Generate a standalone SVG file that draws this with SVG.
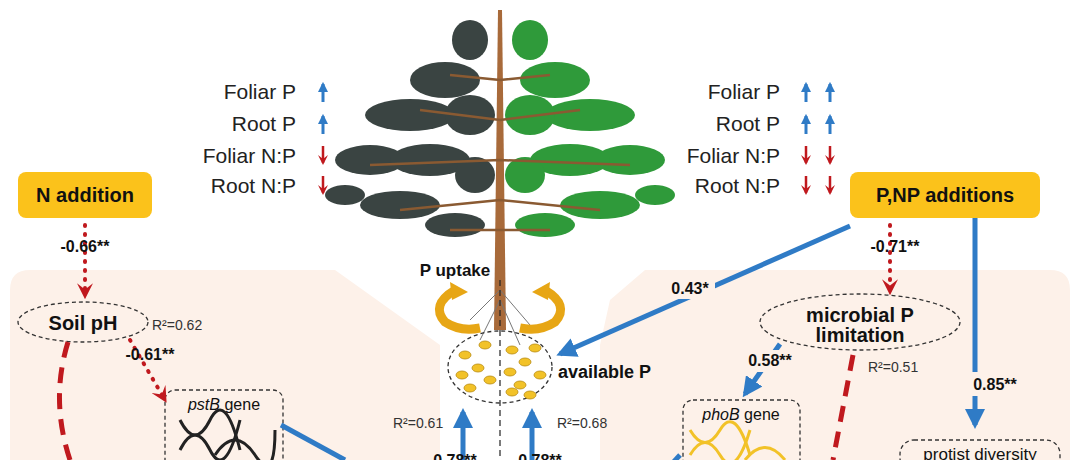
<svg xmlns="http://www.w3.org/2000/svg" width="1080" height="460" viewBox="0 0 1080 460">
<defs>
<style>
text{font-family:"Liberation Sans",Arial,sans-serif;fill:#111}
.lbl{font-size:21px;text-anchor:end;fill:#222}
.b{font-weight:bold}
.coef{font-size:16px;font-weight:bold}
.r2{font-size:14px;fill:#333}
.box{fill:#fbc21b;stroke:none}
.ell{fill:none;stroke:#333;stroke-width:1.3;stroke-dasharray:4 3}
.blue{stroke:#2f7bc6;stroke-width:5;fill:none}
.reddot{stroke:#c0191e;stroke-width:4;stroke-dasharray:1 8;stroke-linecap:round;fill:none}
.reddash{stroke:#c0191e;stroke-width:5;stroke-dasharray:16 10;fill:none}
.gl{fill:#3a4442}.gr{fill:#2f9a3a}
</style>
<marker id="ab" viewBox="0 0 10 10" refX="8" refY="5" markerWidth="4" markerHeight="4" orient="auto"><path d="M0,0L10,5L0,10z" fill="#2f7bc6"/></marker>
<marker id="ta" viewBox="0 0 10 10" refX="8" refY="5" markerWidth="3.5" markerHeight="3.5" orient="auto"><path d="M0,0L10,5L0,10z" fill="#2f7bc6"/></marker>
<marker id="ar" viewBox="0 0 10 10" refX="8" refY="5" markerWidth="4" markerHeight="4" orient="auto"><path d="M0,0L10,5L0,10L4,5z" fill="#c0191e"/></marker>
</defs>
<rect width="1080" height="460" fill="#fff"/>
<path d="M10,290Q10,270 30,270H335L440,345V460H10Z" fill="#fdf1e9"/>
<path d="M645,270H1050Q1070,270 1070,290V460H600V345L610,300Z" fill="#fdf1e9"/>
<g id="tree">
<g class="gl"><ellipse cx="470" cy="40" rx="18" ry="20"/><ellipse cx="445" cy="80" rx="35" ry="18"/><ellipse cx="410" cy="115" rx="45" ry="16"/><ellipse cx="470" cy="115" rx="25" ry="20"/><ellipse cx="370" cy="160" rx="35" ry="15"/><ellipse cx="430" cy="160" rx="40" ry="16"/><ellipse cx="475" cy="175" rx="20" ry="18"/><ellipse cx="400" cy="205" rx="40" ry="14"/><ellipse cx="455" cy="225" rx="30" ry="12"/><ellipse cx="345" cy="195" rx="20" ry="10"/></g>
<g class="gr"><ellipse cx="530" cy="40" rx="18" ry="20"/><ellipse cx="555" cy="80" rx="35" ry="18"/><ellipse cx="590" cy="115" rx="45" ry="16"/><ellipse cx="530" cy="115" rx="25" ry="20"/><ellipse cx="630" cy="160" rx="35" ry="15"/><ellipse cx="570" cy="160" rx="40" ry="16"/><ellipse cx="525" cy="175" rx="20" ry="18"/><ellipse cx="600" cy="205" rx="40" ry="14"/><ellipse cx="545" cy="225" rx="30" ry="12"/><ellipse cx="655" cy="195" rx="20" ry="10"/></g>
<path d="M498,10L502,10L506,330L494,330Z" fill="#a86a3a"/>
<path d="M500,120L420,110M500,160L370,165M500,200L400,210M500,80L450,75M500,230L450,230M500,120L580,110M500,160L630,165M500,200L600,210M500,80L550,75M500,230L550,230" stroke="#8a5a32" stroke-width="2.5"/>
<path d="M500,290L470,320M500,290L530,325M500,300L480,340M500,300L520,345" stroke="#777" stroke-width="1"/>
<line x1="500" y1="280" x2="500" y2="460" stroke="#222" stroke-width="1.2" stroke-dasharray="6 4"/>
</g>
<g id="uptake">
<text x="455" y="276" class="b" font-size="17" text-anchor="middle">P uptake</text>
<path d="M455,290Q430,305 445,322Q460,332 480,328" stroke="#e7a615" stroke-width="9" fill="none"/>
<path d="M545,290Q570,305 555,322Q540,332 520,328" stroke="#e7a615" stroke-width="9" fill="none"/>
<path d="M450,282L468,292L452,300Z M550,282L532,292L548,300Z" fill="#e7a615"/>
</g>
<g id="availP">
<ellipse cx="500" cy="367" rx="52" ry="36" class="ell" stroke="#223a6a" stroke-width="2"/>
<g fill="#f2c228" stroke="#b88a10" stroke-width="0.8">
<ellipse cx="465" cy="355" rx="6" ry="4"/><ellipse cx="478" cy="368" rx="6" ry="4"/><ellipse cx="462" cy="375" rx="6" ry="4"/><ellipse cx="485" cy="345" rx="6" ry="4"/><ellipse cx="470" cy="388" rx="6" ry="4"/><ellipse cx="490" cy="380" rx="6" ry="4"/>
<ellipse cx="512" cy="350" rx="6" ry="4"/><ellipse cx="525" cy="362" rx="6" ry="4"/><ellipse cx="510" cy="372" rx="6" ry="4"/><ellipse cx="535" cy="348" rx="6" ry="4"/><ellipse cx="540" cy="375" rx="6" ry="4"/><ellipse cx="520" cy="385" rx="6" ry="4"/><ellipse cx="530" cy="395" rx="6" ry="4"/><ellipse cx="512" cy="392" rx="6" ry="4"/>
</g>
<text x="558" y="378" class="b" font-size="18">available P</text>
<text x="393" y="428" class="r2">R²=0.61</text>
<text x="557" y="428" class="r2">R²=0.68</text>
</g>
<g id="leftlist">
<text x="296" y="99" class="lbl">Foliar P</text><text x="296" y="131" class="lbl">Root P</text><text x="296" y="163" class="lbl">Foliar N:P</text><text x="296" y="193" class="lbl">Root N:P</text>
</g>
<g id="rightlist">
<text x="780" y="99" class="lbl">Foliar P</text><text x="780" y="131" class="lbl">Root P</text><text x="780" y="163" class="lbl">Foliar N:P</text><text x="780" y="193" class="lbl">Root N:P</text>
</g>
<g id="trendarrows">
<g stroke="#2f7bc6" stroke-width="3" marker-end="url(#ta)">
<line x1="323" y1="102" x2="323" y2="84"/><line x1="323" y1="134" x2="323" y2="116"/>
<line x1="806" y1="102" x2="806" y2="84"/><line x1="806" y1="134" x2="806" y2="116"/>
<line x1="830" y1="102" x2="830" y2="84"/><line x1="830" y1="134" x2="830" y2="116"/>
</g>
<g stroke="#c0191e" stroke-width="2.5" marker-end="url(#ar)">
<line x1="323" y1="146" x2="323" y2="163"/><line x1="323" y1="176" x2="323" y2="193"/>
<line x1="806" y1="146" x2="806" y2="163"/><line x1="806" y1="176" x2="806" y2="193"/>
<line x1="830" y1="146" x2="830" y2="163"/><line x1="830" y1="176" x2="830" y2="193"/>
</g>
</g>
<g id="Naddition"><rect x="18" y="172" width="134" height="46" rx="8" class="box"/><text x="85" y="202" text-anchor="middle" class="b" font-size="20">N addition</text></g>
<g id="PNP"><rect x="850" y="172" width="190" height="46" rx="8" class="box"/><text x="945" y="202" text-anchor="middle" class="b" font-size="20">P,NP additions</text></g>
<g id="soilpH"><ellipse cx="83" cy="322" rx="65" ry="20" class="ell"/><text x="83" y="330" text-anchor="middle" class="b" font-size="20">Soil pH</text><text x="152" y="330" class="r2">R²=0.62</text></g>
<g id="microP"><ellipse cx="860" cy="322" rx="100" ry="28" class="ell"/><text x="860" y="322" text-anchor="middle" class="b" font-size="20">microbial P</text><text x="860" y="342" text-anchor="middle" class="b" font-size="20">limitation</text><text x="868" y="372" class="r2">R²=0.51</text></g>
<g id="pstB"><rect x="165" y="390" width="118" height="80" rx="10" class="ell"/><text x="224" y="410" text-anchor="middle" font-size="16"><tspan font-style="italic">pstB</tspan> gene</text>
<g stroke="#222" stroke-width="3" fill="none"><path d="M180,450Q195,420 210,450T240,420"/><path d="M180,420Q195,450 210,420T240,450"/><path d="M215,455Q235,425 255,455T275,430"/></g></g>
<g id="phoB"><rect x="683" y="400" width="117" height="70" rx="10" class="ell"/><text x="741" y="420" text-anchor="middle" font-size="16"><tspan font-style="italic">phoB</tspan> gene</text>
<g stroke="#f2c228" stroke-width="3" fill="none"><path d="M690,455Q705,430 720,455T750,430"/><path d="M690,430Q705,455 720,430T750,455"/><path d="M745,460Q765,435 785,460"/></g></g>
<g id="protist"><rect x="900" y="440" width="160" height="32" rx="14" class="ell"/><text x="980" y="460" text-anchor="middle" font-size="17">protist diversity</text></g>
<g id="connectors">
<line x1="85" y1="225" x2="85" y2="296" class="reddot" marker-end="url(#ar)"/>
<line x1="130" y1="340" x2="165" y2="400" class="reddot" marker-end="url(#ar)"/>
<line x1="890" y1="225" x2="890" y2="292" class="reddot" marker-end="url(#ar)"/>
<path d="M68,342Q50,400 70,460" class="reddash"/>
<path d="M853,355L833,460" class="reddash"/>
<line x1="281" y1="425" x2="345" y2="460" class="blue"/>
<line x1="850" y1="226" x2="560" y2="354" class="blue" marker-end="url(#ab)"/>
<line x1="780" y1="344" x2="745" y2="394" class="blue" marker-end="url(#ab)"/>
<line x1="975" y1="218" x2="975" y2="425" class="blue" marker-end="url(#ab)"/>
<line x1="463" y1="460" x2="463" y2="412" class="blue" marker-end="url(#ab)"/>
<line x1="532" y1="460" x2="532" y2="412" class="blue" marker-end="url(#ab)"/>
<line x1="680" y1="455" x2="668" y2="468" class="blue"/>
</g>
<g id="labels">
<rect x="655" y="275" width="60" height="24" fill="#fdf1e9"/>
<text x="85" y="252" text-anchor="middle" class="coef">-0.66**</text>
<text x="150" y="360" text-anchor="middle" class="coef">-0.61**</text>
<text x="895" y="252" text-anchor="middle" class="coef">-0.71**</text>
<text x="690" y="294" text-anchor="middle" class="coef">0.43*</text>
<rect x="740" y="350" width="60" height="22" fill="#fdf1e9"/>
<text x="770" y="366" text-anchor="middle" class="coef">0.58**</text>
<rect x="968" y="372" width="55" height="24" fill="#fdf1e9"/>
<text x="995" y="390" text-anchor="middle" class="coef">0.85**</text>
<text x="455" y="466" text-anchor="middle" class="coef">0.78**</text>
<text x="540" y="466" text-anchor="middle" class="coef">0.78**</text>
</g>
</svg>
